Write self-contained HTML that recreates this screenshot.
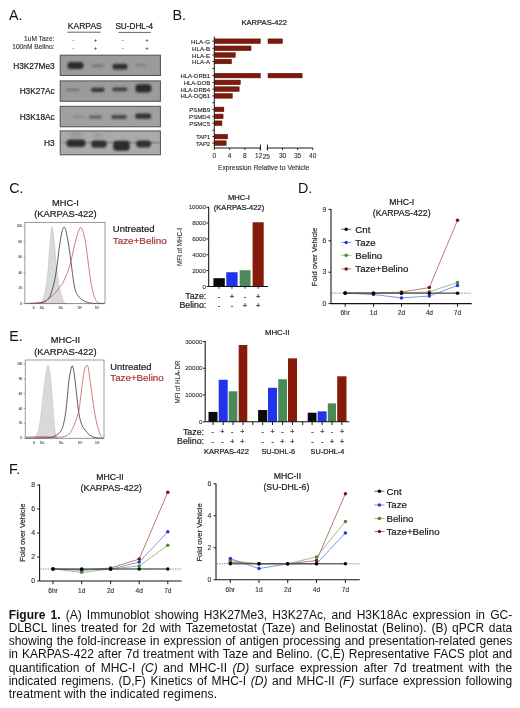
<!DOCTYPE html>
<html><head><meta charset="utf-8"><title>Figure 1</title>
<style>
html,body{margin:0;padding:0;background:#fff;}
body{width:520px;height:708px;overflow:hidden;position:relative;font-family:'Liberation Sans', Arial, sans-serif;}
svg{position:absolute;left:0;top:0;}
svg text{font-family:'Liberation Sans', Arial, sans-serif;}
.cap{position:absolute;left:8.7px;width:503.5px;font-size:12px;line-height:13.125px;color:#111;}
.cap div{text-align:justify;text-align-last:justify;white-space:nowrap;height:13.125px;}
.cap div.last{text-align-last:left;letter-spacing:0.15px;}
</style></head><body>
<svg width="520" height="708" viewBox="0 0 520 708">
<text x="9.00" y="20.30" font-size="14.30" text-anchor="start" fill="#111" font-weight="normal" >A.</text>
<text x="54.40" y="41.40" font-size="6.60" text-anchor="end" fill="#333" font-weight="normal" stroke="#333" stroke-width="0.12" >1uM Taze:</text>
<text x="54.40" y="48.60" font-size="6.60" text-anchor="end" fill="#333" font-weight="normal" stroke="#333" stroke-width="0.12" >100nM Belino:</text>
<text x="84.80" y="29.20" font-size="8.50" text-anchor="middle" fill="#222" font-weight="normal" stroke="#222" stroke-width="0.22" >KARPAS</text>
<text x="134.30" y="29.20" font-size="8.20" text-anchor="middle" fill="#222" font-weight="normal" stroke="#222" stroke-width="0.22" >SU-DHL-4</text>
<line x1="67.3" y1="32.2" x2="100.5" y2="32.2" stroke="#555" stroke-width="0.9"/>
<line x1="118.5" y1="32.4" x2="150.8" y2="32.4" stroke="#555" stroke-width="0.9"/>
<text x="73.50" y="42.20" font-size="5.80" text-anchor="middle" fill="#333" font-weight="normal" stroke="#333" stroke-width="0.12" >-</text>
<text x="73.50" y="49.80" font-size="5.80" text-anchor="middle" fill="#333" font-weight="normal" stroke="#333" stroke-width="0.12" >-</text>
<text x="95.50" y="42.20" font-size="5.80" text-anchor="middle" fill="#333" font-weight="normal" stroke="#333" stroke-width="0.12" >+</text>
<text x="95.50" y="49.80" font-size="5.80" text-anchor="middle" fill="#333" font-weight="normal" stroke="#333" stroke-width="0.12" >+</text>
<text x="122.70" y="42.20" font-size="5.80" text-anchor="middle" fill="#333" font-weight="normal" stroke="#333" stroke-width="0.12" >-</text>
<text x="122.70" y="49.80" font-size="5.80" text-anchor="middle" fill="#333" font-weight="normal" stroke="#333" stroke-width="0.12" >-</text>
<text x="147.00" y="42.20" font-size="5.80" text-anchor="middle" fill="#333" font-weight="normal" stroke="#333" stroke-width="0.12" >+</text>
<text x="147.00" y="49.80" font-size="5.80" text-anchor="middle" fill="#333" font-weight="normal" stroke="#333" stroke-width="0.12" >+</text>
<text x="54.70" y="69.20" font-size="8.30" text-anchor="end" fill="#222" font-weight="normal" stroke="#222" stroke-width="0.22" >H3K27Me3</text>
<text x="54.70" y="94.30" font-size="8.30" text-anchor="end" fill="#222" font-weight="normal" stroke="#222" stroke-width="0.22" >H3K27Ac</text>
<text x="54.70" y="120.00" font-size="8.30" text-anchor="end" fill="#222" font-weight="normal" stroke="#222" stroke-width="0.22" >H3K18Ac</text>
<text x="54.70" y="145.80" font-size="8.30" text-anchor="end" fill="#222" font-weight="normal" stroke="#222" stroke-width="0.22" >H3</text>
<rect x="60.2" y="55.20" width="100.2" height="20.30" fill="#9b9b9b" stroke="#505050" stroke-width="1.0"/>
<rect x="60.2" y="80.90" width="100.2" height="20.40" fill="#9b9b9b" stroke="#505050" stroke-width="1.0"/>
<rect x="60.2" y="106.30" width="100.2" height="20.50" fill="#a0a0a0" stroke="#505050" stroke-width="1.0"/>
<rect x="60.2" y="130.90" width="100.2" height="23.90" fill="#aaaaaa" stroke="#505050" stroke-width="1.0"/>
<defs><filter id="bl" x="-50%" y="-50%" width="200%" height="200%"><feGaussianBlur stdDeviation="0.9"/></filter><filter id="bl2" x="-50%" y="-50%" width="200%" height="200%"><feGaussianBlur stdDeviation="1.6"/></filter><clipPath id="cb1"><rect x="60.2" y="55.2" width="100.2" height="20.3"/></clipPath></defs>
<ellipse cx="76" cy="134.5" rx="7" ry="2.5" fill="#777" opacity="0.35" filter="url(#bl2)"/>
<ellipse cx="98" cy="135" rx="5" ry="2" fill="#777" opacity="0.3" filter="url(#bl2)"/>
<line x1="61" y1="142.2" x2="160" y2="143.0" stroke="#555" stroke-width="1.8" opacity="0.45" filter="url(#bl)"/>
<rect x="67.40" y="62.10" width="16.20" height="7.00" rx="3.50" fill="#262626" opacity="0.95" filter="url(#bl)"/>
<rect x="92.00" y="64.30" width="12.00" height="3.00" rx="1.50" fill="#262626" opacity="0.30" filter="url(#bl)"/>
<rect x="112.50" y="63.80" width="15.00" height="5.80" rx="2.90" fill="#262626" opacity="0.92" filter="url(#bl)"/>
<rect x="136.00" y="64.00" width="11.00" height="2.60" rx="1.30" fill="#262626" opacity="0.22" filter="url(#bl)"/>
<rect x="66.25" y="88.50" width="13.50" height="2.60" rx="1.30" fill="#262626" opacity="0.35" filter="url(#bl)"/>
<rect x="91.05" y="87.70" width="13.50" height="4.20" rx="2.10" fill="#262626" opacity="0.88" filter="url(#bl)"/>
<rect x="112.30" y="87.50" width="15.00" height="3.80" rx="1.90" fill="#262626" opacity="0.78" filter="url(#bl)"/>
<rect x="135.40" y="84.20" width="16.00" height="8.40" rx="3.50" fill="#262626" opacity="0.97" filter="url(#bl)"/>
<rect x="73.00" y="115.60" width="12.00" height="2.20" rx="1.10" fill="#262626" opacity="0.18" filter="url(#bl)"/>
<rect x="89.10" y="115.40" width="13.00" height="3.20" rx="1.60" fill="#262626" opacity="0.55" filter="url(#bl)"/>
<rect x="111.25" y="115.00" width="15.50" height="4.00" rx="2.00" fill="#262626" opacity="0.72" filter="url(#bl)"/>
<rect x="135.20" y="113.60" width="16.00" height="5.20" rx="2.60" fill="#262626" opacity="0.90" filter="url(#bl)"/>
<rect x="66.50" y="139.40" width="19.00" height="7.60" rx="3.50" fill="#262626" opacity="0.95" filter="url(#bl)"/>
<rect x="91.25" y="140.60" width="15.50" height="7.20" rx="3.50" fill="#262626" opacity="0.92" filter="url(#bl)"/>
<rect x="113.25" y="140.80" width="16.50" height="10.00" rx="3.50" fill="#262626" opacity="0.95" filter="url(#bl)"/>
<rect x="136.10" y="140.60" width="15.00" height="6.80" rx="3.40" fill="#262626" opacity="0.92" filter="url(#bl)"/>
<text x="172.50" y="20.00" font-size="14.30" text-anchor="start" fill="#111" font-weight="normal" >B.</text>
<text x="264.20" y="24.50" font-size="7.60" text-anchor="middle" fill="#222" font-weight="normal" stroke="#222" stroke-width="0.22" >KARPAS-422</text>
<line x1="212.30" y1="41.20" x2="214.30" y2="41.20" stroke="#1a1a1a" stroke-width="0.9"/>
<text x="210.10" y="43.70" font-size="6.00" text-anchor="end" fill="#222" font-weight="normal" stroke="#222" stroke-width="0.12" textLength="19.10" lengthAdjust="spacingAndGlyphs">HLA-G</text>
<rect x="214.30" y="38.90" width="46.10" height="4.60" fill="#7d1a0c" stroke="#5a0c00" stroke-width="0.5"/>
<rect x="268.00" y="38.90" width="14.50" height="4.60" fill="#7d1a0c" stroke="#5a0c00" stroke-width="0.5"/>
<line x1="212.30" y1="48.30" x2="214.30" y2="48.30" stroke="#1a1a1a" stroke-width="0.9"/>
<text x="210.10" y="50.80" font-size="6.00" text-anchor="end" fill="#222" font-weight="normal" stroke="#222" stroke-width="0.12" textLength="18.00" lengthAdjust="spacingAndGlyphs">HLA-B</text>
<rect x="214.30" y="46.00" width="36.72" height="4.60" fill="#7d1a0c" stroke="#5a0c00" stroke-width="0.5"/>
<line x1="212.30" y1="55.00" x2="214.30" y2="55.00" stroke="#1a1a1a" stroke-width="0.9"/>
<text x="210.10" y="57.50" font-size="6.00" text-anchor="end" fill="#222" font-weight="normal" stroke="#222" stroke-width="0.12" textLength="18.00" lengthAdjust="spacingAndGlyphs">HLA-E</text>
<rect x="214.30" y="52.70" width="21.04" height="4.60" fill="#7d1a0c" stroke="#5a0c00" stroke-width="0.5"/>
<line x1="212.30" y1="61.50" x2="214.30" y2="61.50" stroke="#1a1a1a" stroke-width="0.9"/>
<text x="210.10" y="64.00" font-size="6.00" text-anchor="end" fill="#222" font-weight="normal" stroke="#222" stroke-width="0.12" textLength="18.00" lengthAdjust="spacingAndGlyphs">HLA-A</text>
<rect x="214.30" y="59.20" width="17.21" height="4.60" fill="#7d1a0c" stroke="#5a0c00" stroke-width="0.5"/>
<line x1="212.30" y1="68.40" x2="214.30" y2="68.40" stroke="#1a1a1a" stroke-width="0.9"/>
<line x1="212.30" y1="75.60" x2="214.30" y2="75.60" stroke="#1a1a1a" stroke-width="0.9"/>
<text x="210.10" y="78.10" font-size="6.00" text-anchor="end" fill="#222" font-weight="normal" stroke="#222" stroke-width="0.12" textLength="29.70" lengthAdjust="spacingAndGlyphs">HLA-DRB1</text>
<rect x="214.30" y="73.30" width="46.10" height="4.60" fill="#7d1a0c" stroke="#5a0c00" stroke-width="0.5"/>
<rect x="268.00" y="73.30" width="34.13" height="4.60" fill="#7d1a0c" stroke="#5a0c00" stroke-width="0.5"/>
<line x1="212.30" y1="82.40" x2="214.30" y2="82.40" stroke="#1a1a1a" stroke-width="0.9"/>
<text x="210.10" y="84.90" font-size="6.00" text-anchor="end" fill="#222" font-weight="normal" stroke="#222" stroke-width="0.12" textLength="26.40" lengthAdjust="spacingAndGlyphs">HLA-DOB</text>
<rect x="214.30" y="80.10" width="26.01" height="4.60" fill="#7d1a0c" stroke="#5a0c00" stroke-width="0.5"/>
<line x1="212.30" y1="89.10" x2="214.30" y2="89.10" stroke="#1a1a1a" stroke-width="0.9"/>
<text x="210.10" y="91.60" font-size="6.00" text-anchor="end" fill="#222" font-weight="normal" stroke="#222" stroke-width="0.12" textLength="29.70" lengthAdjust="spacingAndGlyphs">HLA-DRB4</text>
<rect x="214.30" y="86.80" width="24.86" height="4.60" fill="#7d1a0c" stroke="#5a0c00" stroke-width="0.5"/>
<line x1="212.30" y1="95.90" x2="214.30" y2="95.90" stroke="#1a1a1a" stroke-width="0.9"/>
<text x="210.10" y="98.40" font-size="6.00" text-anchor="end" fill="#222" font-weight="normal" stroke="#222" stroke-width="0.12" textLength="29.70" lengthAdjust="spacingAndGlyphs">HLA-DQB1</text>
<rect x="214.30" y="93.60" width="17.98" height="4.60" fill="#7d1a0c" stroke="#5a0c00" stroke-width="0.5"/>
<line x1="212.30" y1="102.70" x2="214.30" y2="102.70" stroke="#1a1a1a" stroke-width="0.9"/>
<line x1="212.30" y1="109.40" x2="214.30" y2="109.40" stroke="#1a1a1a" stroke-width="0.9"/>
<text x="210.10" y="111.90" font-size="6.00" text-anchor="end" fill="#222" font-weight="normal" stroke="#222" stroke-width="0.12" textLength="20.90" lengthAdjust="spacingAndGlyphs">PSMB9</text>
<rect x="214.30" y="107.10" width="9.56" height="4.60" fill="#7d1a0c" stroke="#5a0c00" stroke-width="0.5"/>
<line x1="212.30" y1="116.40" x2="214.30" y2="116.40" stroke="#1a1a1a" stroke-width="0.9"/>
<text x="210.10" y="118.90" font-size="6.00" text-anchor="end" fill="#222" font-weight="normal" stroke="#222" stroke-width="0.12" textLength="21.00" lengthAdjust="spacingAndGlyphs">PSMD4</text>
<rect x="214.30" y="114.10" width="8.80" height="4.60" fill="#7d1a0c" stroke="#5a0c00" stroke-width="0.5"/>
<line x1="212.30" y1="123.20" x2="214.30" y2="123.20" stroke="#1a1a1a" stroke-width="0.9"/>
<text x="210.10" y="125.70" font-size="6.00" text-anchor="end" fill="#222" font-weight="normal" stroke="#222" stroke-width="0.12" textLength="20.90" lengthAdjust="spacingAndGlyphs">PSMC5</text>
<rect x="214.30" y="120.90" width="7.65" height="4.60" fill="#7d1a0c" stroke="#5a0c00" stroke-width="0.5"/>
<line x1="212.30" y1="130.20" x2="214.30" y2="130.20" stroke="#1a1a1a" stroke-width="0.9"/>
<line x1="212.30" y1="136.60" x2="214.30" y2="136.60" stroke="#1a1a1a" stroke-width="0.9"/>
<text x="210.10" y="139.10" font-size="6.00" text-anchor="end" fill="#222" font-weight="normal" stroke="#222" stroke-width="0.12" textLength="13.90" lengthAdjust="spacingAndGlyphs">TAP1</text>
<rect x="214.30" y="134.30" width="13.39" height="4.60" fill="#7d1a0c" stroke="#5a0c00" stroke-width="0.5"/>
<line x1="212.30" y1="143.10" x2="214.30" y2="143.10" stroke="#1a1a1a" stroke-width="0.9"/>
<text x="210.10" y="145.60" font-size="6.00" text-anchor="end" fill="#222" font-weight="normal" stroke="#222" stroke-width="0.12" textLength="14.20" lengthAdjust="spacingAndGlyphs">TAP2</text>
<rect x="214.30" y="140.80" width="11.86" height="4.60" fill="#7d1a0c" stroke="#5a0c00" stroke-width="0.5"/>
<line x1="214.30" y1="36.5" x2="214.30" y2="148.0" stroke="#1a1a1a" stroke-width="1.0"/>
<line x1="214.30" y1="148.0" x2="260.4" y2="148.0" stroke="#1a1a1a" stroke-width="1.0"/>
<line x1="267.4" y1="148.0" x2="312.9" y2="148.0" stroke="#1a1a1a" stroke-width="1.0"/>
<line x1="214.30" y1="148.0" x2="214.30" y2="150" stroke="#1a1a1a" stroke-width="0.9"/>
<line x1="229.60" y1="148.0" x2="229.60" y2="150" stroke="#1a1a1a" stroke-width="0.9"/>
<line x1="244.90" y1="148.0" x2="244.90" y2="150" stroke="#1a1a1a" stroke-width="0.9"/>
<line x1="260.20" y1="148.0" x2="260.20" y2="150" stroke="#1a1a1a" stroke-width="0.9"/>
<line x1="267.40" y1="148.0" x2="267.40" y2="150" stroke="#1a1a1a" stroke-width="0.9"/>
<line x1="282.50" y1="148.0" x2="282.50" y2="150" stroke="#1a1a1a" stroke-width="0.9"/>
<line x1="297.60" y1="148.0" x2="297.60" y2="150" stroke="#1a1a1a" stroke-width="0.9"/>
<line x1="312.70" y1="148.0" x2="312.70" y2="150" stroke="#1a1a1a" stroke-width="0.9"/>
<line x1="260.4" y1="144.5" x2="260.4" y2="150.5" stroke="#1a1a1a" stroke-width="1.0"/>
<line x1="267.4" y1="144.5" x2="267.4" y2="150.5" stroke="#1a1a1a" stroke-width="1.0"/>
<text x="214.30" y="158.00" font-size="6.50" text-anchor="middle" fill="#333" font-weight="normal" stroke="#333" stroke-width="0.12" >0</text>
<text x="229.60" y="158.00" font-size="6.50" text-anchor="middle" fill="#333" font-weight="normal" stroke="#333" stroke-width="0.12" >4</text>
<text x="244.90" y="158.00" font-size="6.50" text-anchor="middle" fill="#333" font-weight="normal" stroke="#333" stroke-width="0.12" >8</text>
<text x="258.70" y="158.00" font-size="6.50" text-anchor="middle" fill="#333" font-weight="normal" stroke="#333" stroke-width="0.12" >12</text>
<text x="266.30" y="158.60" font-size="6.50" text-anchor="middle" fill="#333" font-weight="normal" stroke="#333" stroke-width="0.12" >25</text>
<text x="282.50" y="158.00" font-size="6.50" text-anchor="middle" fill="#333" font-weight="normal" stroke="#333" stroke-width="0.12" >30</text>
<text x="297.60" y="158.00" font-size="6.50" text-anchor="middle" fill="#333" font-weight="normal" stroke="#333" stroke-width="0.12" >35</text>
<text x="312.70" y="158.00" font-size="6.50" text-anchor="middle" fill="#333" font-weight="normal" stroke="#333" stroke-width="0.12" >40</text>
<text x="263.60" y="169.50" font-size="6.80" text-anchor="middle" fill="#333" font-weight="normal" stroke="#333" stroke-width="0.12" >Expression Relative to Vehicle</text>
<text x="9.30" y="193.10" font-size="14.30" text-anchor="start" fill="#111" font-weight="normal" >C.</text>
<text x="65.40" y="206.20" font-size="9.30" text-anchor="middle" fill="#222" font-weight="normal" stroke="#222" stroke-width="0.22" >MHC-I</text>
<text x="65.40" y="217.40" font-size="9.40" text-anchor="middle" fill="#222" font-weight="normal" stroke="#222" stroke-width="0.22" >(KARPAS-422)</text>
<path d="M38.00,303.50 C38.67,303.08 40.83,302.92 42.00,301.00 C43.17,299.08 44.08,296.33 45.00,292.00 C45.92,287.67 46.75,282.00 47.50,275.00 C48.25,268.00 48.92,257.17 49.50,250.00 C50.08,242.83 50.58,235.88 51.00,232.00 C51.42,228.12 51.63,226.70 52.00,226.70 C52.37,226.70 52.77,228.95 53.20,232.00 C53.63,235.05 54.13,240.00 54.60,245.00 C55.07,250.00 55.50,257.00 56.00,262.00 C56.50,267.00 57.02,270.67 57.60,275.00 C58.18,279.33 58.85,284.67 59.50,288.00 C60.15,291.33 60.83,292.83 61.50,295.00 C62.17,297.17 62.75,299.58 63.50,301.00 C64.25,302.42 65.58,303.08 66.00,303.50 Z" fill="#d9d9d9" stroke="#bdbdbd" stroke-width="0.5"/>
<path d="M30.00,303.50 C31.67,303.42 37.33,303.42 40.00,303.00 C42.67,302.58 44.33,302.17 46.00,301.00 C47.67,299.83 48.83,298.33 50.00,296.00 C51.17,293.67 52.08,290.33 53.00,287.00 C53.92,283.67 54.75,280.17 55.50,276.00 C56.25,271.83 56.83,267.00 57.50,262.00 C58.17,257.00 58.83,250.67 59.50,246.00 C60.17,241.33 60.92,236.92 61.50,234.00 C62.08,231.08 62.55,229.62 63.00,228.50 C63.45,227.38 63.78,227.22 64.20,227.30 C64.62,227.38 65.03,227.55 65.50,229.00 C65.97,230.45 66.50,233.50 67.00,236.00 C67.50,238.50 67.92,240.33 68.50,244.00 C69.08,247.67 69.92,253.67 70.50,258.00 C71.08,262.33 71.42,265.67 72.00,270.00 C72.58,274.33 73.33,280.33 74.00,284.00 C74.67,287.67 75.17,289.83 76.00,292.00 C76.83,294.17 77.83,295.58 79.00,297.00 C80.17,298.42 81.33,299.53 83.00,300.50 C84.67,301.47 86.83,302.30 89.00,302.80 C91.17,303.30 93.50,303.38 96.00,303.50 C98.50,303.62 102.67,303.50 104.00,303.50" fill="none" stroke="#2a2a2a" stroke-width="0.75"/>
<path d="M25.00,303.50 C27.50,303.33 36.50,303.00 40.00,302.50 C43.50,302.00 44.17,301.42 46.00,300.50 C47.83,299.58 49.50,298.25 51.00,297.00 C52.50,295.75 53.67,294.50 55.00,293.00 C56.33,291.50 57.75,289.58 59.00,288.00 C60.25,286.42 61.33,285.50 62.50,283.50 C63.67,281.50 65.00,278.33 66.00,276.00 C67.00,273.67 67.67,272.00 68.50,269.50 C69.33,267.00 70.25,263.92 71.00,261.00 C71.75,258.08 72.37,254.83 73.00,252.00 C73.63,249.17 74.13,246.67 74.80,244.00 C75.47,241.33 76.30,238.33 77.00,236.00 C77.70,233.67 78.40,231.42 79.00,230.00 C79.60,228.58 80.10,227.67 80.60,227.50 C81.10,227.33 81.43,227.75 82.00,229.00 C82.57,230.25 83.37,232.50 84.00,235.00 C84.63,237.50 85.22,240.33 85.80,244.00 C86.38,247.67 86.93,252.67 87.50,257.00 C88.07,261.33 88.62,265.67 89.20,270.00 C89.78,274.33 90.28,279.00 91.00,283.00 C91.72,287.00 92.67,291.08 93.50,294.00 C94.33,296.92 95.08,299.00 96.00,300.50 C96.92,302.00 97.58,302.50 99.00,303.00 C100.42,303.50 103.58,303.42 104.50,303.50" fill="none" stroke="#c44448" stroke-width="0.7"/>
<rect x="24.90" y="222.30" width="80.10" height="81.20" fill="none" stroke="#666" stroke-width="0.65"/>
<line x1="23.40" y1="303.50" x2="24.90" y2="303.50" stroke="#555" stroke-width="0.5"/>
<text x="21.90" y="304.50" font-size="3.00" text-anchor="end" fill="#555" font-weight="normal" stroke="#555" stroke-width="0.12" >0</text>
<line x1="23.40" y1="288.06" x2="24.90" y2="288.06" stroke="#555" stroke-width="0.5"/>
<text x="21.90" y="289.06" font-size="3.00" text-anchor="end" fill="#555" font-weight="normal" stroke="#555" stroke-width="0.12" >20</text>
<line x1="23.40" y1="272.62" x2="24.90" y2="272.62" stroke="#555" stroke-width="0.5"/>
<text x="21.90" y="273.62" font-size="3.00" text-anchor="end" fill="#555" font-weight="normal" stroke="#555" stroke-width="0.12" >40</text>
<line x1="23.40" y1="257.18" x2="24.90" y2="257.18" stroke="#555" stroke-width="0.5"/>
<text x="21.90" y="258.18" font-size="3.00" text-anchor="end" fill="#555" font-weight="normal" stroke="#555" stroke-width="0.12" >60</text>
<line x1="23.40" y1="241.74" x2="24.90" y2="241.74" stroke="#555" stroke-width="0.5"/>
<text x="21.90" y="242.74" font-size="3.00" text-anchor="end" fill="#555" font-weight="normal" stroke="#555" stroke-width="0.12" >80</text>
<line x1="23.40" y1="226.30" x2="24.90" y2="226.30" stroke="#555" stroke-width="0.5"/>
<text x="21.90" y="227.30" font-size="3.00" text-anchor="end" fill="#555" font-weight="normal" stroke="#555" stroke-width="0.12" >100</text>
<line x1="26.00" y1="303.50" x2="26.00" y2="304.50" stroke="#666" stroke-width="0.4"/>
<line x1="29.00" y1="303.50" x2="29.00" y2="304.50" stroke="#666" stroke-width="0.4"/>
<line x1="32.00" y1="303.50" x2="32.00" y2="304.50" stroke="#666" stroke-width="0.4"/>
<line x1="35.00" y1="303.50" x2="35.00" y2="304.50" stroke="#666" stroke-width="0.4"/>
<line x1="38.00" y1="303.50" x2="38.00" y2="304.50" stroke="#666" stroke-width="0.4"/>
<line x1="41.00" y1="303.50" x2="41.00" y2="304.50" stroke="#666" stroke-width="0.4"/>
<line x1="44.00" y1="303.50" x2="44.00" y2="304.50" stroke="#666" stroke-width="0.4"/>
<line x1="47.00" y1="303.50" x2="47.00" y2="304.50" stroke="#666" stroke-width="0.4"/>
<line x1="50.00" y1="303.50" x2="50.00" y2="304.50" stroke="#666" stroke-width="0.4"/>
<line x1="53.00" y1="303.50" x2="53.00" y2="304.50" stroke="#666" stroke-width="0.4"/>
<line x1="56.00" y1="303.50" x2="56.00" y2="304.50" stroke="#666" stroke-width="0.4"/>
<line x1="59.00" y1="303.50" x2="59.00" y2="304.50" stroke="#666" stroke-width="0.4"/>
<line x1="62.00" y1="303.50" x2="62.00" y2="304.50" stroke="#666" stroke-width="0.4"/>
<line x1="65.00" y1="303.50" x2="65.00" y2="304.50" stroke="#666" stroke-width="0.4"/>
<line x1="68.00" y1="303.50" x2="68.00" y2="304.50" stroke="#666" stroke-width="0.4"/>
<line x1="71.00" y1="303.50" x2="71.00" y2="304.50" stroke="#666" stroke-width="0.4"/>
<line x1="74.00" y1="303.50" x2="74.00" y2="304.50" stroke="#666" stroke-width="0.4"/>
<line x1="77.00" y1="303.50" x2="77.00" y2="304.50" stroke="#666" stroke-width="0.4"/>
<line x1="80.00" y1="303.50" x2="80.00" y2="304.50" stroke="#666" stroke-width="0.4"/>
<line x1="83.00" y1="303.50" x2="83.00" y2="304.50" stroke="#666" stroke-width="0.4"/>
<line x1="86.00" y1="303.50" x2="86.00" y2="304.50" stroke="#666" stroke-width="0.4"/>
<line x1="89.00" y1="303.50" x2="89.00" y2="304.50" stroke="#666" stroke-width="0.4"/>
<line x1="92.00" y1="303.50" x2="92.00" y2="304.50" stroke="#666" stroke-width="0.4"/>
<line x1="95.00" y1="303.50" x2="95.00" y2="304.50" stroke="#666" stroke-width="0.4"/>
<line x1="98.00" y1="303.50" x2="98.00" y2="304.50" stroke="#666" stroke-width="0.4"/>
<line x1="101.00" y1="303.50" x2="101.00" y2="304.50" stroke="#666" stroke-width="0.4"/>
<line x1="104.00" y1="303.50" x2="104.00" y2="304.50" stroke="#666" stroke-width="0.4"/>
<text x="33.60" y="309.00" font-size="3.20" text-anchor="middle" fill="#555" font-weight="normal" stroke="#555" stroke-width="0.12" >0</text>
<text x="41.70" y="309.00" font-size="3.20" text-anchor="middle" fill="#555" font-weight="normal" stroke="#555" stroke-width="0.12" >10²</text>
<text x="60.80" y="309.00" font-size="3.20" text-anchor="middle" fill="#555" font-weight="normal" stroke="#555" stroke-width="0.12" >10³</text>
<text x="79.80" y="309.00" font-size="3.20" text-anchor="middle" fill="#555" font-weight="normal" stroke="#555" stroke-width="0.12" >10⁴</text>
<text x="97.10" y="309.00" font-size="3.20" text-anchor="middle" fill="#555" font-weight="normal" stroke="#555" stroke-width="0.12" >10⁵</text>
<text x="112.80" y="232.00" font-size="9.50" text-anchor="start" fill="#222" font-weight="normal" stroke="#222" stroke-width="0.22" >Untreated</text>
<text x="112.80" y="243.50" font-size="9.85" text-anchor="start" fill="#a83838" font-weight="normal" stroke="#a83838" stroke-width="0.22" >Taze+Belino</text>
<text x="9.30" y="340.60" font-size="14.30" text-anchor="start" fill="#111" font-weight="normal" >E.</text>
<text x="65.40" y="343.00" font-size="9.30" text-anchor="middle" fill="#222" font-weight="normal" stroke="#222" stroke-width="0.22" >MHC-II</text>
<text x="65.40" y="354.60" font-size="9.40" text-anchor="middle" fill="#222" font-weight="normal" stroke="#222" stroke-width="0.22" >(KARPAS-422)</text>
<path d="M33.00,438.20 C33.50,437.83 35.08,437.37 36.00,436.00 C36.92,434.63 37.75,433.00 38.50,430.00 C39.25,427.00 39.92,422.17 40.50,418.00 C41.08,413.83 41.50,409.33 42.00,405.00 C42.50,400.67 43.00,396.17 43.50,392.00 C44.00,387.83 44.50,383.67 45.00,380.00 C45.50,376.33 46.00,372.47 46.50,370.00 C47.00,367.53 47.50,365.20 48.00,365.20 C48.50,365.20 49.03,367.53 49.50,370.00 C49.97,372.47 50.42,376.33 50.80,380.00 C51.18,383.67 51.45,387.67 51.80,392.00 C52.15,396.33 52.53,401.33 52.90,406.00 C53.27,410.67 53.60,415.67 54.00,420.00 C54.40,424.33 54.80,428.97 55.30,432.00 C55.80,435.03 56.72,437.17 57.00,438.20 Z" fill="#d9d9d9" stroke="#bdbdbd" stroke-width="0.5"/>
<path d="M26.00,438.20 C28.33,438.17 36.00,438.12 40.00,438.00 C44.00,437.88 47.50,437.83 50.00,437.50 C52.50,437.17 53.67,436.58 55.00,436.00 C56.33,435.42 56.92,435.00 58.00,434.00 C59.08,433.00 60.50,432.00 61.50,430.00 C62.50,428.00 63.27,425.17 64.00,422.00 C64.73,418.83 65.32,415.50 65.90,411.00 C66.48,406.50 66.98,400.17 67.50,395.00 C68.02,389.83 68.45,384.17 69.00,380.00 C69.55,375.83 70.25,372.37 70.80,370.00 C71.35,367.63 71.83,365.80 72.30,365.80 C72.77,365.80 73.15,367.63 73.60,370.00 C74.05,372.37 74.47,375.67 75.00,380.00 C75.53,384.33 76.17,390.50 76.80,396.00 C77.43,401.50 78.02,408.33 78.80,413.00 C79.58,417.67 80.47,421.17 81.50,424.00 C82.53,426.83 83.75,428.25 85.00,430.00 C86.25,431.75 87.50,433.28 89.00,434.50 C90.50,435.72 92.17,436.68 94.00,437.30 C95.83,437.92 98.42,438.05 100.00,438.20 C101.58,438.35 102.92,438.20 103.50,438.20" fill="none" stroke="#2a2a2a" stroke-width="0.75"/>
<path d="M25.50,437.20 C27.08,437.13 31.75,436.87 35.00,436.80 C38.25,436.73 41.67,436.72 45.00,436.80 C48.33,436.88 52.17,437.27 55.00,437.30 C57.83,437.33 60.17,437.22 62.00,437.00 C63.83,436.78 64.83,436.50 66.00,436.00 C67.17,435.50 68.00,435.00 69.00,434.00 C70.00,433.00 71.00,431.83 72.00,430.00 C73.00,428.17 73.87,426.17 75.00,423.00 C76.13,419.83 77.83,415.50 78.80,411.00 C79.77,406.50 80.13,401.17 80.80,396.00 C81.47,390.83 82.18,384.33 82.80,380.00 C83.42,375.67 83.87,372.47 84.50,370.00 C85.13,367.53 85.97,365.53 86.60,365.20 C87.23,364.87 87.73,365.53 88.30,368.00 C88.87,370.47 89.35,375.33 90.00,380.00 C90.65,384.67 91.47,390.83 92.20,396.00 C92.93,401.17 93.68,406.67 94.40,411.00 C95.12,415.33 95.78,418.83 96.50,422.00 C97.22,425.17 98.03,427.83 98.70,430.00 C99.37,432.17 99.87,433.73 100.50,435.00 C101.13,436.27 101.95,437.07 102.50,437.60 C103.05,438.13 103.58,438.10 103.80,438.20" fill="none" stroke="#c44448" stroke-width="0.7"/>
<rect x="25.20" y="360.00" width="78.80" height="78.20" fill="none" stroke="#666" stroke-width="0.65"/>
<line x1="23.70" y1="438.20" x2="25.20" y2="438.20" stroke="#555" stroke-width="0.5"/>
<text x="22.20" y="439.20" font-size="3.00" text-anchor="end" fill="#555" font-weight="normal" stroke="#555" stroke-width="0.12" >0</text>
<line x1="23.70" y1="423.36" x2="25.20" y2="423.36" stroke="#555" stroke-width="0.5"/>
<text x="22.20" y="424.36" font-size="3.00" text-anchor="end" fill="#555" font-weight="normal" stroke="#555" stroke-width="0.12" >20</text>
<line x1="23.70" y1="408.52" x2="25.20" y2="408.52" stroke="#555" stroke-width="0.5"/>
<text x="22.20" y="409.52" font-size="3.00" text-anchor="end" fill="#555" font-weight="normal" stroke="#555" stroke-width="0.12" >40</text>
<line x1="23.70" y1="393.68" x2="25.20" y2="393.68" stroke="#555" stroke-width="0.5"/>
<text x="22.20" y="394.68" font-size="3.00" text-anchor="end" fill="#555" font-weight="normal" stroke="#555" stroke-width="0.12" >60</text>
<line x1="23.70" y1="378.84" x2="25.20" y2="378.84" stroke="#555" stroke-width="0.5"/>
<text x="22.20" y="379.84" font-size="3.00" text-anchor="end" fill="#555" font-weight="normal" stroke="#555" stroke-width="0.12" >80</text>
<line x1="23.70" y1="364.00" x2="25.20" y2="364.00" stroke="#555" stroke-width="0.5"/>
<text x="22.20" y="365.00" font-size="3.00" text-anchor="end" fill="#555" font-weight="normal" stroke="#555" stroke-width="0.12" >100</text>
<line x1="27.00" y1="438.20" x2="27.00" y2="439.20" stroke="#666" stroke-width="0.4"/>
<line x1="30.00" y1="438.20" x2="30.00" y2="439.20" stroke="#666" stroke-width="0.4"/>
<line x1="33.00" y1="438.20" x2="33.00" y2="439.20" stroke="#666" stroke-width="0.4"/>
<line x1="36.00" y1="438.20" x2="36.00" y2="439.20" stroke="#666" stroke-width="0.4"/>
<line x1="39.00" y1="438.20" x2="39.00" y2="439.20" stroke="#666" stroke-width="0.4"/>
<line x1="42.00" y1="438.20" x2="42.00" y2="439.20" stroke="#666" stroke-width="0.4"/>
<line x1="45.00" y1="438.20" x2="45.00" y2="439.20" stroke="#666" stroke-width="0.4"/>
<line x1="48.00" y1="438.20" x2="48.00" y2="439.20" stroke="#666" stroke-width="0.4"/>
<line x1="51.00" y1="438.20" x2="51.00" y2="439.20" stroke="#666" stroke-width="0.4"/>
<line x1="54.00" y1="438.20" x2="54.00" y2="439.20" stroke="#666" stroke-width="0.4"/>
<line x1="57.00" y1="438.20" x2="57.00" y2="439.20" stroke="#666" stroke-width="0.4"/>
<line x1="60.00" y1="438.20" x2="60.00" y2="439.20" stroke="#666" stroke-width="0.4"/>
<line x1="63.00" y1="438.20" x2="63.00" y2="439.20" stroke="#666" stroke-width="0.4"/>
<line x1="66.00" y1="438.20" x2="66.00" y2="439.20" stroke="#666" stroke-width="0.4"/>
<line x1="69.00" y1="438.20" x2="69.00" y2="439.20" stroke="#666" stroke-width="0.4"/>
<line x1="72.00" y1="438.20" x2="72.00" y2="439.20" stroke="#666" stroke-width="0.4"/>
<line x1="75.00" y1="438.20" x2="75.00" y2="439.20" stroke="#666" stroke-width="0.4"/>
<line x1="78.00" y1="438.20" x2="78.00" y2="439.20" stroke="#666" stroke-width="0.4"/>
<line x1="81.00" y1="438.20" x2="81.00" y2="439.20" stroke="#666" stroke-width="0.4"/>
<line x1="84.00" y1="438.20" x2="84.00" y2="439.20" stroke="#666" stroke-width="0.4"/>
<line x1="87.00" y1="438.20" x2="87.00" y2="439.20" stroke="#666" stroke-width="0.4"/>
<line x1="90.00" y1="438.20" x2="90.00" y2="439.20" stroke="#666" stroke-width="0.4"/>
<line x1="93.00" y1="438.20" x2="93.00" y2="439.20" stroke="#666" stroke-width="0.4"/>
<line x1="96.00" y1="438.20" x2="96.00" y2="439.20" stroke="#666" stroke-width="0.4"/>
<line x1="99.00" y1="438.20" x2="99.00" y2="439.20" stroke="#666" stroke-width="0.4"/>
<line x1="102.00" y1="438.20" x2="102.00" y2="439.20" stroke="#666" stroke-width="0.4"/>
<text x="33.90" y="443.70" font-size="3.20" text-anchor="middle" fill="#555" font-weight="normal" stroke="#555" stroke-width="0.12" >0</text>
<text x="42.00" y="443.70" font-size="3.20" text-anchor="middle" fill="#555" font-weight="normal" stroke="#555" stroke-width="0.12" >10²</text>
<text x="61.10" y="443.70" font-size="3.20" text-anchor="middle" fill="#555" font-weight="normal" stroke="#555" stroke-width="0.12" >10³</text>
<text x="80.10" y="443.70" font-size="3.20" text-anchor="middle" fill="#555" font-weight="normal" stroke="#555" stroke-width="0.12" >10⁴</text>
<text x="97.40" y="443.70" font-size="3.20" text-anchor="middle" fill="#555" font-weight="normal" stroke="#555" stroke-width="0.12" >10⁵</text>
<text x="110.30" y="370.40" font-size="9.40" text-anchor="start" fill="#222" font-weight="normal" stroke="#222" stroke-width="0.22" >Untreated</text>
<text x="110.30" y="380.60" font-size="9.75" text-anchor="start" fill="#a83838" font-weight="normal" stroke="#a83838" stroke-width="0.22" >Taze+Belino</text>
<text x="239.00" y="200.00" font-size="7.60" text-anchor="middle" fill="#222" font-weight="normal" stroke="#222" stroke-width="0.22" >MHC-I</text>
<text x="239.00" y="209.90" font-size="7.60" text-anchor="middle" fill="#222" font-weight="normal" stroke="#222" stroke-width="0.22" >(KARPAS-422)</text>
<line x1="206.50" y1="286.50" x2="208.70" y2="286.50" stroke="#111" stroke-width="0.95"/>
<text x="205.90" y="288.70" font-size="6.20" text-anchor="end" fill="#333" font-weight="normal" stroke="#333" stroke-width="0.12" >0</text>
<line x1="206.50" y1="270.64" x2="208.70" y2="270.64" stroke="#111" stroke-width="0.95"/>
<text x="205.90" y="272.84" font-size="6.20" text-anchor="end" fill="#333" font-weight="normal" stroke="#333" stroke-width="0.12" >2000</text>
<line x1="206.50" y1="254.78" x2="208.70" y2="254.78" stroke="#111" stroke-width="0.95"/>
<text x="205.90" y="256.98" font-size="6.20" text-anchor="end" fill="#333" font-weight="normal" stroke="#333" stroke-width="0.12" >4000</text>
<line x1="206.50" y1="238.92" x2="208.70" y2="238.92" stroke="#111" stroke-width="0.95"/>
<text x="205.90" y="241.12" font-size="6.20" text-anchor="end" fill="#333" font-weight="normal" stroke="#333" stroke-width="0.12" >6000</text>
<line x1="206.50" y1="223.06" x2="208.70" y2="223.06" stroke="#111" stroke-width="0.95"/>
<text x="205.90" y="225.26" font-size="6.20" text-anchor="end" fill="#333" font-weight="normal" stroke="#333" stroke-width="0.12" >8000</text>
<line x1="206.50" y1="207.20" x2="208.70" y2="207.20" stroke="#111" stroke-width="0.95"/>
<text x="205.90" y="209.40" font-size="6.20" text-anchor="end" fill="#333" font-weight="normal" stroke="#333" stroke-width="0.12" >10000</text>
<rect x="213.40" y="278.17" width="11.40" height="8.33" fill="#0a0a0a"/>
<line x1="219.10" y1="286.50" x2="219.10" y2="288.70" stroke="#111" stroke-width="0.95"/>
<rect x="226.30" y="272.23" width="11.30" height="14.27" fill="#2233ee"/>
<line x1="231.95" y1="286.50" x2="231.95" y2="288.70" stroke="#111" stroke-width="0.95"/>
<rect x="239.70" y="270.24" width="10.90" height="16.26" fill="#4a8a58"/>
<line x1="245.15" y1="286.50" x2="245.15" y2="288.70" stroke="#111" stroke-width="0.95"/>
<rect x="252.60" y="222.27" width="11.10" height="64.23" fill="#861b0a"/>
<line x1="258.15" y1="286.50" x2="258.15" y2="288.70" stroke="#111" stroke-width="0.95"/>
<line x1="208.70" y1="206.70" x2="208.70" y2="286.50" stroke="#111" stroke-width="1.05"/>
<line x1="208.70" y1="286.50" x2="268.00" y2="286.50" stroke="#111" stroke-width="1.05"/>
<text x="182.40" y="247.00" font-size="6.30" text-anchor="middle" fill="#333" font-weight="normal" stroke="#333" stroke-width="0.12" transform="rotate(-90 182.4 247)">MFI of MHC-I</text>
<text x="206.30" y="298.70" font-size="8.80" text-anchor="end" fill="#222" font-weight="normal" stroke="#222" stroke-width="0.22" >Taze:</text>
<text x="206.30" y="308.30" font-size="8.80" text-anchor="end" fill="#222" font-weight="normal" stroke="#222" stroke-width="0.22" >Belino:</text>
<text x="219.10" y="298.50" font-size="7.50" text-anchor="middle" fill="#333" font-weight="normal" stroke="#333" stroke-width="0.22" >-</text>
<text x="219.10" y="308.00" font-size="7.50" text-anchor="middle" fill="#333" font-weight="normal" stroke="#333" stroke-width="0.22" >-</text>
<text x="231.90" y="298.50" font-size="7.50" text-anchor="middle" fill="#333" font-weight="normal" stroke="#333" stroke-width="0.22" >+</text>
<text x="231.90" y="308.00" font-size="7.50" text-anchor="middle" fill="#333" font-weight="normal" stroke="#333" stroke-width="0.22" >-</text>
<text x="244.90" y="298.50" font-size="7.50" text-anchor="middle" fill="#333" font-weight="normal" stroke="#333" stroke-width="0.22" >-</text>
<text x="244.90" y="308.00" font-size="7.50" text-anchor="middle" fill="#333" font-weight="normal" stroke="#333" stroke-width="0.22" >+</text>
<text x="258.10" y="298.50" font-size="7.50" text-anchor="middle" fill="#333" font-weight="normal" stroke="#333" stroke-width="0.22" >+</text>
<text x="258.10" y="308.00" font-size="7.50" text-anchor="middle" fill="#333" font-weight="normal" stroke="#333" stroke-width="0.22" >+</text>
<text x="277.30" y="334.60" font-size="7.80" text-anchor="middle" fill="#222" font-weight="normal" stroke="#222" stroke-width="0.22" >MHC-II</text>
<line x1="203.00" y1="421.80" x2="205.20" y2="421.80" stroke="#111" stroke-width="0.95"/>
<text x="202.40" y="424.00" font-size="6.20" text-anchor="end" fill="#333" font-weight="normal" stroke="#333" stroke-width="0.12" >0</text>
<line x1="203.00" y1="395.03" x2="205.20" y2="395.03" stroke="#111" stroke-width="0.95"/>
<text x="202.40" y="397.23" font-size="6.20" text-anchor="end" fill="#333" font-weight="normal" stroke="#333" stroke-width="0.12" >10000</text>
<line x1="203.00" y1="368.27" x2="205.20" y2="368.27" stroke="#111" stroke-width="0.95"/>
<text x="202.40" y="370.47" font-size="6.20" text-anchor="end" fill="#333" font-weight="normal" stroke="#333" stroke-width="0.12" >20000</text>
<line x1="203.00" y1="341.50" x2="205.20" y2="341.50" stroke="#111" stroke-width="0.95"/>
<text x="202.40" y="343.70" font-size="6.20" text-anchor="end" fill="#333" font-weight="normal" stroke="#333" stroke-width="0.12" >30000</text>
<rect x="208.50" y="411.90" width="9.00" height="9.90" fill="#0a0a0a"/>
<rect x="218.70" y="379.78" width="9.00" height="42.02" fill="#2233ee"/>
<rect x="228.70" y="391.29" width="8.60" height="30.51" fill="#4a8a58"/>
<rect x="238.70" y="344.98" width="8.60" height="76.82" fill="#861b0a"/>
<rect x="258.10" y="410.02" width="9.20" height="11.78" fill="#0a0a0a"/>
<rect x="268.00" y="387.81" width="9.00" height="33.99" fill="#2233ee"/>
<rect x="278.20" y="379.24" width="8.80" height="42.56" fill="#4a8a58"/>
<rect x="288.00" y="358.36" width="9.00" height="63.44" fill="#861b0a"/>
<rect x="307.70" y="412.70" width="8.80" height="9.10" fill="#0a0a0a"/>
<rect x="317.60" y="411.36" width="9.00" height="10.44" fill="#2233ee"/>
<rect x="327.80" y="403.33" width="8.20" height="18.47" fill="#4a8a58"/>
<rect x="337.20" y="376.30" width="9.30" height="45.50" fill="#861b0a"/>
<line x1="213.00" y1="421.80" x2="213.00" y2="425.00" stroke="#111" stroke-width="0.95"/>
<line x1="223.20" y1="421.80" x2="223.20" y2="425.00" stroke="#111" stroke-width="0.95"/>
<line x1="233.00" y1="421.80" x2="233.00" y2="425.00" stroke="#111" stroke-width="0.95"/>
<line x1="243.00" y1="421.80" x2="243.00" y2="425.00" stroke="#111" stroke-width="0.95"/>
<line x1="262.70" y1="421.80" x2="262.70" y2="425.00" stroke="#111" stroke-width="0.95"/>
<line x1="272.50" y1="421.80" x2="272.50" y2="425.00" stroke="#111" stroke-width="0.95"/>
<line x1="282.60" y1="421.80" x2="282.60" y2="425.00" stroke="#111" stroke-width="0.95"/>
<line x1="292.50" y1="421.80" x2="292.50" y2="425.00" stroke="#111" stroke-width="0.95"/>
<line x1="312.10" y1="421.80" x2="312.10" y2="425.00" stroke="#111" stroke-width="0.95"/>
<line x1="322.10" y1="421.80" x2="322.10" y2="425.00" stroke="#111" stroke-width="0.95"/>
<line x1="331.90" y1="421.80" x2="331.90" y2="425.00" stroke="#111" stroke-width="0.95"/>
<line x1="341.85" y1="421.80" x2="341.85" y2="425.00" stroke="#111" stroke-width="0.95"/>
<line x1="252.80" y1="421.80" x2="252.80" y2="425.00" stroke="#111" stroke-width="0.95"/>
<line x1="302.70" y1="421.80" x2="302.70" y2="425.00" stroke="#111" stroke-width="0.95"/>
<line x1="205.20" y1="341.00" x2="205.20" y2="421.80" stroke="#111" stroke-width="1.05"/>
<line x1="205.20" y1="421.80" x2="349.30" y2="421.80" stroke="#111" stroke-width="1.05"/>
<text x="180.40" y="382.00" font-size="6.30" text-anchor="middle" fill="#333" font-weight="normal" stroke="#333" stroke-width="0.12" transform="rotate(-90 180.4 382)">MFI of HLA-DR</text>
<text x="204.00" y="434.50" font-size="8.80" text-anchor="end" fill="#222" font-weight="normal" stroke="#222" stroke-width="0.22" >Taze:</text>
<text x="204.00" y="444.40" font-size="8.80" text-anchor="end" fill="#222" font-weight="normal" stroke="#222" stroke-width="0.22" >Belino:</text>
<text x="212.70" y="434.00" font-size="7.00" text-anchor="middle" fill="#333" font-weight="normal" stroke="#333" stroke-width="0.22" >-</text>
<text x="212.70" y="444.20" font-size="7.00" text-anchor="middle" fill="#333" font-weight="normal" stroke="#333" stroke-width="0.22" >-</text>
<text x="222.40" y="434.00" font-size="7.00" text-anchor="middle" fill="#333" font-weight="normal" stroke="#333" stroke-width="0.22" >+</text>
<text x="222.40" y="444.20" font-size="7.00" text-anchor="middle" fill="#333" font-weight="normal" stroke="#333" stroke-width="0.22" >-</text>
<text x="232.20" y="434.00" font-size="7.00" text-anchor="middle" fill="#333" font-weight="normal" stroke="#333" stroke-width="0.22" >-</text>
<text x="232.20" y="444.20" font-size="7.00" text-anchor="middle" fill="#333" font-weight="normal" stroke="#333" stroke-width="0.22" >+</text>
<text x="242.20" y="434.00" font-size="7.00" text-anchor="middle" fill="#333" font-weight="normal" stroke="#333" stroke-width="0.22" >+</text>
<text x="242.20" y="444.20" font-size="7.00" text-anchor="middle" fill="#333" font-weight="normal" stroke="#333" stroke-width="0.22" >+</text>
<text x="262.70" y="434.00" font-size="7.00" text-anchor="middle" fill="#333" font-weight="normal" stroke="#333" stroke-width="0.22" >-</text>
<text x="262.70" y="444.20" font-size="7.00" text-anchor="middle" fill="#333" font-weight="normal" stroke="#333" stroke-width="0.22" >-</text>
<text x="272.60" y="434.00" font-size="7.00" text-anchor="middle" fill="#333" font-weight="normal" stroke="#333" stroke-width="0.22" >+</text>
<text x="272.60" y="444.20" font-size="7.00" text-anchor="middle" fill="#333" font-weight="normal" stroke="#333" stroke-width="0.22" >-</text>
<text x="282.40" y="434.00" font-size="7.00" text-anchor="middle" fill="#333" font-weight="normal" stroke="#333" stroke-width="0.22" >-</text>
<text x="282.40" y="444.20" font-size="7.00" text-anchor="middle" fill="#333" font-weight="normal" stroke="#333" stroke-width="0.22" >+</text>
<text x="292.30" y="434.00" font-size="7.00" text-anchor="middle" fill="#333" font-weight="normal" stroke="#333" stroke-width="0.22" >+</text>
<text x="292.30" y="444.20" font-size="7.00" text-anchor="middle" fill="#333" font-weight="normal" stroke="#333" stroke-width="0.22" >+</text>
<text x="312.40" y="434.00" font-size="7.00" text-anchor="middle" fill="#333" font-weight="normal" stroke="#333" stroke-width="0.22" >-</text>
<text x="312.40" y="444.20" font-size="7.00" text-anchor="middle" fill="#333" font-weight="normal" stroke="#333" stroke-width="0.22" >-</text>
<text x="322.30" y="434.00" font-size="7.00" text-anchor="middle" fill="#333" font-weight="normal" stroke="#333" stroke-width="0.22" >+</text>
<text x="322.30" y="444.20" font-size="7.00" text-anchor="middle" fill="#333" font-weight="normal" stroke="#333" stroke-width="0.22" >-</text>
<text x="332.00" y="434.00" font-size="7.00" text-anchor="middle" fill="#333" font-weight="normal" stroke="#333" stroke-width="0.22" >-</text>
<text x="332.00" y="444.20" font-size="7.00" text-anchor="middle" fill="#333" font-weight="normal" stroke="#333" stroke-width="0.22" >+</text>
<text x="342.00" y="434.00" font-size="7.00" text-anchor="middle" fill="#333" font-weight="normal" stroke="#333" stroke-width="0.22" >+</text>
<text x="342.00" y="444.20" font-size="7.00" text-anchor="middle" fill="#333" font-weight="normal" stroke="#333" stroke-width="0.22" >+</text>
<text x="226.50" y="454.40" font-size="7.50" text-anchor="middle" fill="#222" font-weight="normal" stroke="#222" stroke-width="0.22" >KARPAS-422</text>
<text x="278.30" y="454.40" font-size="7.30" text-anchor="middle" fill="#222" font-weight="normal" stroke="#222" stroke-width="0.22" >SU-DHL-6</text>
<text x="327.40" y="454.40" font-size="7.30" text-anchor="middle" fill="#222" font-weight="normal" stroke="#222" stroke-width="0.22" >SU-DHL-4</text>
<text x="298.00" y="193.10" font-size="14.30" text-anchor="start" fill="#111" font-weight="normal" >D.</text>
<text x="401.70" y="204.70" font-size="8.70" text-anchor="middle" fill="#222" font-weight="normal" stroke="#222" stroke-width="0.22" >MHC-I</text>
<text x="401.70" y="216.00" font-size="8.70" text-anchor="middle" fill="#222" font-weight="normal" stroke="#222" stroke-width="0.22" >(KARPAS-422)</text>
<line x1="332.00" y1="293.13" x2="471.70" y2="293.13" stroke="#555" stroke-width="0.7" stroke-dasharray="1.3,1.1"/>
<polyline points="345.20,292.82 373.50,293.13 401.50,292.08 429.30,287.58 457.50,220.36" fill="none" stroke="#a0504a" stroke-width="0.75"/>
<polyline points="345.20,292.61 373.50,293.13 401.50,293.13 429.30,291.87 457.50,282.45" fill="none" stroke="#7aaa60" stroke-width="0.75"/>
<polyline points="345.20,293.13 373.50,294.49 401.50,297.95 429.30,296.06 457.50,285.38" fill="none" stroke="#5a6ee0" stroke-width="0.75"/>
<polyline points="345.20,293.13 373.50,293.13 401.50,293.13 429.30,293.13 457.50,293.13" fill="none" stroke="#3a3a3a" stroke-width="1.00"/>
<circle cx="345.20" cy="292.82" r="1.75" fill="#7a1410"/>
<circle cx="373.50" cy="293.13" r="1.75" fill="#7a1410"/>
<circle cx="401.50" cy="292.08" r="1.75" fill="#7a1410"/>
<circle cx="429.30" cy="287.58" r="1.75" fill="#7a1410"/>
<circle cx="457.50" cy="220.36" r="1.75" fill="#7a1410"/>
<circle cx="345.20" cy="292.61" r="1.75" fill="#4a8a30"/>
<circle cx="373.50" cy="293.13" r="1.75" fill="#4a8a30"/>
<circle cx="401.50" cy="293.13" r="1.75" fill="#4a8a30"/>
<circle cx="429.30" cy="291.87" r="1.75" fill="#4a8a30"/>
<circle cx="457.50" cy="282.45" r="1.75" fill="#4a8a30"/>
<circle cx="345.20" cy="293.13" r="1.75" fill="#2636d8"/>
<circle cx="373.50" cy="294.49" r="1.75" fill="#2636d8"/>
<circle cx="401.50" cy="297.95" r="1.75" fill="#2636d8"/>
<circle cx="429.30" cy="296.06" r="1.75" fill="#2636d8"/>
<circle cx="457.50" cy="285.38" r="1.75" fill="#2636d8"/>
<circle cx="345.20" cy="293.13" r="1.75" fill="#000000"/>
<circle cx="373.50" cy="293.13" r="1.75" fill="#000000"/>
<circle cx="401.50" cy="293.13" r="1.75" fill="#000000"/>
<circle cx="429.30" cy="293.13" r="1.75" fill="#000000"/>
<circle cx="457.50" cy="293.13" r="1.75" fill="#000000"/>
<line x1="331.00" y1="208.97" x2="331.00" y2="303.60" stroke="#111" stroke-width="1.05"/>
<line x1="331.00" y1="303.60" x2="471.70" y2="303.60" stroke="#111" stroke-width="1.05"/>
<line x1="328.50" y1="303.60" x2="331.00" y2="303.60" stroke="#111" stroke-width="0.95"/>
<text x="326.40" y="305.90" font-size="6.90" text-anchor="end" fill="#333" font-weight="normal" stroke="#333" stroke-width="0.12" >0</text>
<line x1="328.50" y1="272.19" x2="331.00" y2="272.19" stroke="#111" stroke-width="0.95"/>
<text x="326.40" y="274.49" font-size="6.90" text-anchor="end" fill="#333" font-weight="normal" stroke="#333" stroke-width="0.12" >3</text>
<line x1="328.50" y1="240.78" x2="331.00" y2="240.78" stroke="#111" stroke-width="0.95"/>
<text x="326.40" y="243.08" font-size="6.90" text-anchor="end" fill="#333" font-weight="normal" stroke="#333" stroke-width="0.12" >6</text>
<line x1="328.50" y1="209.37" x2="331.00" y2="209.37" stroke="#111" stroke-width="0.95"/>
<text x="326.40" y="211.67" font-size="6.90" text-anchor="end" fill="#333" font-weight="normal" stroke="#333" stroke-width="0.12" >9</text>
<line x1="345.20" y1="303.60" x2="345.20" y2="306.80" stroke="#111" stroke-width="0.95"/>
<text x="345.20" y="315.40" font-size="6.60" text-anchor="middle" fill="#333" font-weight="normal" stroke="#333" stroke-width="0.12" >6hr</text>
<line x1="373.50" y1="303.60" x2="373.50" y2="306.80" stroke="#111" stroke-width="0.95"/>
<text x="373.50" y="315.40" font-size="6.60" text-anchor="middle" fill="#333" font-weight="normal" stroke="#333" stroke-width="0.12" >1d</text>
<line x1="401.50" y1="303.60" x2="401.50" y2="306.80" stroke="#111" stroke-width="0.95"/>
<text x="401.50" y="315.40" font-size="6.60" text-anchor="middle" fill="#333" font-weight="normal" stroke="#333" stroke-width="0.12" >2d</text>
<line x1="429.30" y1="303.60" x2="429.30" y2="306.80" stroke="#111" stroke-width="0.95"/>
<text x="429.30" y="315.40" font-size="6.60" text-anchor="middle" fill="#333" font-weight="normal" stroke="#333" stroke-width="0.12" >4d</text>
<line x1="457.50" y1="303.60" x2="457.50" y2="306.80" stroke="#111" stroke-width="0.95"/>
<text x="457.50" y="315.40" font-size="6.60" text-anchor="middle" fill="#333" font-weight="normal" stroke="#333" stroke-width="0.12" >7d</text>
<text x="317.40" y="257.00" font-size="7.60" text-anchor="middle" fill="#333" font-weight="normal" stroke="#333" stroke-width="0.22" transform="rotate(-90 317.40 257.00)">Fold over Vehicle</text>
<line x1="341.20" y1="229.30" x2="351.20" y2="229.30" stroke="#3a3a3a" stroke-width="0.75"/>
<circle cx="346.20" cy="229.30" r="1.75" fill="#000000"/>
<text x="355.30" y="232.70" font-size="9.70" text-anchor="start" fill="#222" font-weight="normal" stroke="#222" stroke-width="0.22" >Cnt</text>
<line x1="341.20" y1="242.40" x2="351.20" y2="242.40" stroke="#5a6ee0" stroke-width="0.75"/>
<circle cx="346.20" cy="242.40" r="1.75" fill="#2636d8"/>
<text x="355.30" y="245.80" font-size="9.70" text-anchor="start" fill="#222" font-weight="normal" stroke="#222" stroke-width="0.22" >Taze</text>
<line x1="341.20" y1="255.30" x2="351.20" y2="255.30" stroke="#7aaa60" stroke-width="0.75"/>
<circle cx="346.20" cy="255.30" r="1.75" fill="#4a8a30"/>
<text x="355.30" y="258.70" font-size="9.70" text-anchor="start" fill="#222" font-weight="normal" stroke="#222" stroke-width="0.22" >Belino</text>
<line x1="341.20" y1="268.90" x2="351.20" y2="268.90" stroke="#a0504a" stroke-width="0.75"/>
<circle cx="346.20" cy="268.90" r="1.75" fill="#7a1410"/>
<text x="355.30" y="272.30" font-size="9.70" text-anchor="start" fill="#222" font-weight="normal" stroke="#222" stroke-width="0.22" >Taze+Belino</text>
<text x="9.00" y="473.50" font-size="14.30" text-anchor="start" fill="#111" font-weight="normal" >F.</text>
<text x="110.00" y="480.30" font-size="8.70" text-anchor="middle" fill="#222" font-weight="normal" stroke="#222" stroke-width="0.22" >MHC-II</text>
<text x="111.20" y="490.80" font-size="9.25" text-anchor="middle" fill="#222" font-weight="normal" stroke="#222" stroke-width="0.22" >(KARPAS-422)</text>
<line x1="40.60" y1="569.00" x2="181.70" y2="569.00" stroke="#555" stroke-width="0.7" stroke-dasharray="1.3,1.1"/>
<polyline points="53.00,569.00 81.70,570.20 110.60,568.04 139.20,559.04 167.80,492.20" fill="none" stroke="#a0504a" stroke-width="0.75"/>
<polyline points="53.00,569.00 81.70,572.36 110.60,569.00 139.20,566.00 167.80,545.24" fill="none" stroke="#7aaa60" stroke-width="0.75"/>
<polyline points="53.00,569.00 81.70,569.60 110.60,569.36 139.20,562.04 167.80,531.80" fill="none" stroke="#5a6ee0" stroke-width="0.75"/>
<polyline points="53.00,569.00 81.70,569.00 110.60,569.00 139.20,569.00 167.80,569.00" fill="none" stroke="#3a3a3a" stroke-width="1.00"/>
<circle cx="53.00" cy="569.00" r="1.75" fill="#7a1410"/>
<circle cx="81.70" cy="570.20" r="1.75" fill="#7a1410"/>
<circle cx="110.60" cy="568.04" r="1.75" fill="#7a1410"/>
<circle cx="139.20" cy="559.04" r="1.75" fill="#7a1410"/>
<circle cx="167.80" cy="492.20" r="1.75" fill="#7a1410"/>
<circle cx="53.00" cy="569.00" r="1.75" fill="#4a8a30"/>
<circle cx="81.70" cy="572.36" r="1.75" fill="#4a8a30"/>
<circle cx="110.60" cy="569.00" r="1.75" fill="#4a8a30"/>
<circle cx="139.20" cy="566.00" r="1.75" fill="#4a8a30"/>
<circle cx="167.80" cy="545.24" r="1.75" fill="#4a8a30"/>
<circle cx="53.00" cy="569.00" r="1.75" fill="#2636d8"/>
<circle cx="81.70" cy="569.60" r="1.75" fill="#2636d8"/>
<circle cx="110.60" cy="569.36" r="1.75" fill="#2636d8"/>
<circle cx="139.20" cy="562.04" r="1.75" fill="#2636d8"/>
<circle cx="167.80" cy="531.80" r="1.75" fill="#2636d8"/>
<circle cx="53.00" cy="569.00" r="1.75" fill="#000000"/>
<circle cx="81.70" cy="569.00" r="1.75" fill="#000000"/>
<circle cx="110.60" cy="569.00" r="1.75" fill="#000000"/>
<circle cx="139.20" cy="569.00" r="1.75" fill="#000000"/>
<circle cx="167.80" cy="569.00" r="1.75" fill="#000000"/>
<line x1="39.60" y1="484.60" x2="39.60" y2="581.00" stroke="#111" stroke-width="1.05"/>
<line x1="39.60" y1="581.00" x2="181.70" y2="581.00" stroke="#111" stroke-width="1.05"/>
<line x1="37.10" y1="581.00" x2="39.60" y2="581.00" stroke="#111" stroke-width="0.95"/>
<text x="35.00" y="583.30" font-size="6.90" text-anchor="end" fill="#333" font-weight="normal" stroke="#333" stroke-width="0.12" >0</text>
<line x1="37.10" y1="557.00" x2="39.60" y2="557.00" stroke="#111" stroke-width="0.95"/>
<text x="35.00" y="559.30" font-size="6.90" text-anchor="end" fill="#333" font-weight="normal" stroke="#333" stroke-width="0.12" >2</text>
<line x1="37.10" y1="533.00" x2="39.60" y2="533.00" stroke="#111" stroke-width="0.95"/>
<text x="35.00" y="535.30" font-size="6.90" text-anchor="end" fill="#333" font-weight="normal" stroke="#333" stroke-width="0.12" >4</text>
<line x1="37.10" y1="509.00" x2="39.60" y2="509.00" stroke="#111" stroke-width="0.95"/>
<text x="35.00" y="511.30" font-size="6.90" text-anchor="end" fill="#333" font-weight="normal" stroke="#333" stroke-width="0.12" >6</text>
<line x1="37.10" y1="485.00" x2="39.60" y2="485.00" stroke="#111" stroke-width="0.95"/>
<text x="35.00" y="487.30" font-size="6.90" text-anchor="end" fill="#333" font-weight="normal" stroke="#333" stroke-width="0.12" >8</text>
<line x1="53.00" y1="581.00" x2="53.00" y2="584.20" stroke="#111" stroke-width="0.95"/>
<text x="53.00" y="592.80" font-size="6.60" text-anchor="middle" fill="#333" font-weight="normal" stroke="#333" stroke-width="0.12" >6hr</text>
<line x1="81.70" y1="581.00" x2="81.70" y2="584.20" stroke="#111" stroke-width="0.95"/>
<text x="81.70" y="592.80" font-size="6.60" text-anchor="middle" fill="#333" font-weight="normal" stroke="#333" stroke-width="0.12" >1d</text>
<line x1="110.60" y1="581.00" x2="110.60" y2="584.20" stroke="#111" stroke-width="0.95"/>
<text x="110.60" y="592.80" font-size="6.60" text-anchor="middle" fill="#333" font-weight="normal" stroke="#333" stroke-width="0.12" >2d</text>
<line x1="139.20" y1="581.00" x2="139.20" y2="584.20" stroke="#111" stroke-width="0.95"/>
<text x="139.20" y="592.80" font-size="6.60" text-anchor="middle" fill="#333" font-weight="normal" stroke="#333" stroke-width="0.12" >4d</text>
<line x1="167.80" y1="581.00" x2="167.80" y2="584.20" stroke="#111" stroke-width="0.95"/>
<text x="167.80" y="592.80" font-size="6.60" text-anchor="middle" fill="#333" font-weight="normal" stroke="#333" stroke-width="0.12" >7d</text>
<text x="24.80" y="532.70" font-size="7.60" text-anchor="middle" fill="#333" font-weight="normal" stroke="#333" stroke-width="0.22" transform="rotate(-90 24.80 532.70)">Fold over Vehicle</text>
<text x="287.40" y="479.20" font-size="8.70" text-anchor="middle" fill="#222" font-weight="normal" stroke="#222" stroke-width="0.22" >MHC-II</text>
<text x="286.40" y="490.00" font-size="8.70" text-anchor="middle" fill="#222" font-weight="normal" stroke="#222" stroke-width="0.22" >(SU-DHL-6)</text>
<line x1="217.00" y1="563.80" x2="359.80" y2="563.80" stroke="#555" stroke-width="0.7" stroke-dasharray="1.3,1.1"/>
<polyline points="230.30,562.20 259.00,563.80 287.70,563.80 316.50,560.60 345.40,493.72" fill="none" stroke="#a0504a" stroke-width="0.75"/>
<polyline points="230.30,560.60 259.00,563.80 287.70,563.80 316.50,556.92 345.40,521.40" fill="none" stroke="#7aaa60" stroke-width="0.75"/>
<polyline points="230.30,558.52 259.00,568.60 287.70,563.80 316.50,563.80 345.40,532.92" fill="none" stroke="#5a6ee0" stroke-width="0.75"/>
<polyline points="230.30,563.80 259.00,563.80 287.70,563.80 316.50,563.80 345.40,563.80" fill="none" stroke="#3a3a3a" stroke-width="1.00"/>
<circle cx="230.30" cy="562.20" r="1.75" fill="#7a1410"/>
<circle cx="259.00" cy="563.80" r="1.75" fill="#7a1410"/>
<circle cx="287.70" cy="563.80" r="1.75" fill="#7a1410"/>
<circle cx="316.50" cy="560.60" r="1.75" fill="#7a1410"/>
<circle cx="345.40" cy="493.72" r="1.75" fill="#7a1410"/>
<circle cx="230.30" cy="560.60" r="1.75" fill="#4a8a30"/>
<circle cx="259.00" cy="563.80" r="1.75" fill="#4a8a30"/>
<circle cx="287.70" cy="563.80" r="1.75" fill="#4a8a30"/>
<circle cx="316.50" cy="556.92" r="1.75" fill="#4a8a30"/>
<circle cx="345.40" cy="521.40" r="1.75" fill="#4a8a30"/>
<circle cx="230.30" cy="558.52" r="1.75" fill="#2636d8"/>
<circle cx="259.00" cy="568.60" r="1.75" fill="#2636d8"/>
<circle cx="287.70" cy="563.80" r="1.75" fill="#2636d8"/>
<circle cx="316.50" cy="563.80" r="1.75" fill="#2636d8"/>
<circle cx="345.40" cy="532.92" r="1.75" fill="#2636d8"/>
<circle cx="230.30" cy="563.80" r="1.75" fill="#000000"/>
<circle cx="259.00" cy="563.80" r="1.75" fill="#000000"/>
<circle cx="287.70" cy="563.80" r="1.75" fill="#000000"/>
<circle cx="316.50" cy="563.80" r="1.75" fill="#000000"/>
<circle cx="345.40" cy="563.80" r="1.75" fill="#000000"/>
<line x1="216.00" y1="483.40" x2="216.00" y2="579.80" stroke="#111" stroke-width="1.05"/>
<line x1="216.00" y1="579.80" x2="359.80" y2="579.80" stroke="#111" stroke-width="1.05"/>
<line x1="213.50" y1="579.80" x2="216.00" y2="579.80" stroke="#111" stroke-width="0.95"/>
<text x="211.40" y="582.10" font-size="6.90" text-anchor="end" fill="#333" font-weight="normal" stroke="#333" stroke-width="0.12" >0</text>
<line x1="213.50" y1="547.80" x2="216.00" y2="547.80" stroke="#111" stroke-width="0.95"/>
<text x="211.40" y="550.10" font-size="6.90" text-anchor="end" fill="#333" font-weight="normal" stroke="#333" stroke-width="0.12" >2</text>
<line x1="213.50" y1="515.80" x2="216.00" y2="515.80" stroke="#111" stroke-width="0.95"/>
<text x="211.40" y="518.10" font-size="6.90" text-anchor="end" fill="#333" font-weight="normal" stroke="#333" stroke-width="0.12" >4</text>
<line x1="213.50" y1="483.80" x2="216.00" y2="483.80" stroke="#111" stroke-width="0.95"/>
<text x="211.40" y="486.10" font-size="6.90" text-anchor="end" fill="#333" font-weight="normal" stroke="#333" stroke-width="0.12" >6</text>
<line x1="230.30" y1="579.80" x2="230.30" y2="583.00" stroke="#111" stroke-width="0.95"/>
<text x="230.30" y="591.60" font-size="6.60" text-anchor="middle" fill="#333" font-weight="normal" stroke="#333" stroke-width="0.12" >6hr</text>
<line x1="259.00" y1="579.80" x2="259.00" y2="583.00" stroke="#111" stroke-width="0.95"/>
<text x="259.00" y="591.60" font-size="6.60" text-anchor="middle" fill="#333" font-weight="normal" stroke="#333" stroke-width="0.12" >1d</text>
<line x1="287.70" y1="579.80" x2="287.70" y2="583.00" stroke="#111" stroke-width="0.95"/>
<text x="287.70" y="591.60" font-size="6.60" text-anchor="middle" fill="#333" font-weight="normal" stroke="#333" stroke-width="0.12" >2d</text>
<line x1="316.50" y1="579.80" x2="316.50" y2="583.00" stroke="#111" stroke-width="0.95"/>
<text x="316.50" y="591.60" font-size="6.60" text-anchor="middle" fill="#333" font-weight="normal" stroke="#333" stroke-width="0.12" >4d</text>
<line x1="345.40" y1="579.80" x2="345.40" y2="583.00" stroke="#111" stroke-width="0.95"/>
<text x="345.40" y="591.60" font-size="6.60" text-anchor="middle" fill="#333" font-weight="normal" stroke="#333" stroke-width="0.12" >7d</text>
<text x="201.60" y="532.40" font-size="7.60" text-anchor="middle" fill="#333" font-weight="normal" stroke="#333" stroke-width="0.22" transform="rotate(-90 201.60 532.40)">Fold over Vehicle</text>
<line x1="374.40" y1="491.20" x2="384.40" y2="491.20" stroke="#3a3a3a" stroke-width="0.75"/>
<circle cx="379.40" cy="491.20" r="1.75" fill="#000000"/>
<text x="386.50" y="494.60" font-size="9.70" text-anchor="start" fill="#222" font-weight="normal" stroke="#222" stroke-width="0.22" >Cnt</text>
<line x1="374.40" y1="505.00" x2="384.40" y2="505.00" stroke="#5a6ee0" stroke-width="0.75"/>
<circle cx="379.40" cy="505.00" r="1.75" fill="#2636d8"/>
<text x="386.50" y="508.40" font-size="9.70" text-anchor="start" fill="#222" font-weight="normal" stroke="#222" stroke-width="0.22" >Taze</text>
<line x1="374.40" y1="518.50" x2="384.40" y2="518.50" stroke="#7aaa60" stroke-width="0.75"/>
<circle cx="379.40" cy="518.50" r="1.75" fill="#4a8a30"/>
<text x="386.50" y="521.90" font-size="9.70" text-anchor="start" fill="#222" font-weight="normal" stroke="#222" stroke-width="0.22" >Belino</text>
<line x1="374.40" y1="531.50" x2="384.40" y2="531.50" stroke="#a0504a" stroke-width="0.75"/>
<circle cx="379.40" cy="531.50" r="1.75" fill="#7a1410"/>
<text x="386.50" y="534.90" font-size="9.70" text-anchor="start" fill="#222" font-weight="normal" stroke="#222" stroke-width="0.22" >Taze+Belino</text>
</svg>
<div class="cap" style="top:609.00px"><div><b>Figure 1.</b> (A) Immunoblot showing H3K27Me3, H3K27Ac, and H3K18Ac expression in GC-</div><div>DLBCL lines treated for 2d with Tazemetostat (Taze) and Belinostat (Belino). (B) qPCR data</div><div>showing the fold-increase in expression of antigen processing and presentation-related genes</div><div>in KARPAS-422 after 7d treatment with Taze and Belino. (C,E) Representative FACS plot and</div><div>quantification of MHC-I <i>(C)</i> and MHC-II <i>(D)</i> surface expression after 7d treatment with the</div><div>indicated regimens. (D,F) Kinetics of MHC-I <i>(D)</i> and MHC-II <i>(F)</i> surface expression following</div><div class="last">treatment with the indicated regimens.</div></div>
</body></html>
